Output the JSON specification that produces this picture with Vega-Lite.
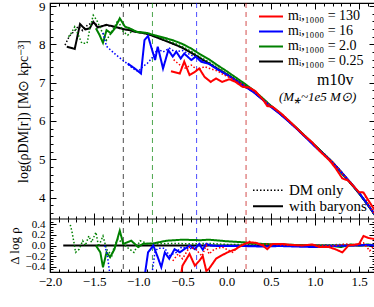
{
  "$schema": "https://vega.github.io/schema/vega-lite/v6.json",
  "padding": {"left": 8, "top": 0, "right": 0, "bottom": 0},
  "width": 325,
  "height": 269,
  "config": {
    "font": "Liberation Serif",
    "view": {"stroke": "black", "strokeWidth": 1.2},
    "axis": {"labelFont": "Liberation Serif", "titleFont": "Liberation Serif", "labelColor": "black", "titleColor": "black", "tickColor": "black", "titleFontWeight": "normal", "grid": false, "labelFlush": false, "labelOverlap": false},
    "legend": {"labelFont": "Liberation Serif", "labelColor": "black"}
  },
  "datasets": {
    "vl": [
      {"x": -1.17, "s": "0.25"},
      {"x": -0.84, "s": "2.0"},
      {"x": -0.34, "s": "16"},
      {"x": 0.22, "s": "130"}
    ],
    "top": [
      {"x": -1.83, "y": 7.98, "s": "0.25", "k": "DM only"},
      {"x": -1.78, "y": 8.22, "s": "0.25", "k": "DM only"},
      {"x": -1.73, "y": 8.33, "s": "0.25", "k": "DM only"},
      {"x": -1.68, "y": 8.47, "s": "0.25", "k": "DM only"},
      {"x": -1.63, "y": 8.36, "s": "0.25", "k": "DM only"},
      {"x": -1.57, "y": 8.52, "s": "0.25", "k": "DM only"},
      {"x": -1.50, "y": 8.56, "s": "0.25", "k": "DM only"},
      {"x": -1.44, "y": 8.46, "s": "0.25", "k": "DM only"},
      {"x": -1.38, "y": 8.50, "s": "0.25", "k": "DM only"},
      {"x": -1.30, "y": 8.47, "s": "0.25", "k": "DM only"},
      {"x": -1.22, "y": 8.42, "s": "0.25", "k": "DM only"},
      {"x": -1.12, "y": 8.38, "s": "0.25", "k": "DM only"},
      {"x": -1.0, "y": 8.32, "s": "0.25", "k": "DM only"},
      {"x": -0.9, "y": 8.27, "s": "0.25", "k": "DM only"},
      {"x": -0.8, "y": 8.19, "s": "0.25", "k": "DM only"},
      {"x": -0.7, "y": 8.10, "s": "0.25", "k": "DM only"},
      {"x": -0.6, "y": 8.01, "s": "0.25", "k": "DM only"},
      {"x": -0.5, "y": 7.91, "s": "0.25", "k": "DM only"},
      {"x": -0.4, "y": 7.79, "s": "0.25", "k": "DM only"},
      {"x": -0.3, "y": 7.64, "s": "0.25", "k": "DM only"},
      {"x": -0.2, "y": 7.50, "s": "0.25", "k": "DM only"},
      {"x": -0.1, "y": 7.36, "s": "0.25", "k": "DM only"},
      {"x": 0.0, "y": 7.22, "s": "0.25", "k": "DM only"},
      {"x": 0.1, "y": 7.07, "s": "0.25", "k": "DM only"},
      {"x": 0.2, "y": 6.92, "s": "0.25", "k": "DM only"},
      {"x": 0.3, "y": 6.77, "s": "0.25", "k": "DM only"},
      {"x": 0.4, "y": 6.58, "s": "0.25", "k": "DM only"},
      {"x": 0.5, "y": 6.38, "s": "0.25", "k": "DM only"},
      {"x": 0.6, "y": 6.20, "s": "0.25", "k": "DM only"},
      {"x": 0.7, "y": 6.00, "s": "0.25", "k": "DM only"},
      {"x": 0.8, "y": 5.79, "s": "0.25", "k": "DM only"},
      {"x": 0.9, "y": 5.57, "s": "0.25", "k": "DM only"},
      {"x": 1.0, "y": 5.36, "s": "0.25", "k": "DM only"},
      {"x": 1.1, "y": 5.14, "s": "0.25", "k": "DM only"},
      {"x": 1.2, "y": 4.92, "s": "0.25", "k": "DM only"},
      {"x": 1.3, "y": 4.66, "s": "0.25", "k": "DM only"},
      {"x": 1.4, "y": 4.38, "s": "0.25", "k": "DM only"},
      {"x": 1.5, "y": 4.11, "s": "0.25", "k": "DM only"},
      {"x": 1.6, "y": 3.80, "s": "0.25", "k": "DM only"},
      {"x": 1.68, "y": 3.54, "s": "0.25", "k": "DM only"},

      {"x": -1.81, "y": 7.94, "s": "0.25", "k": "with baryons"},
      {"x": -1.72, "y": 7.88, "s": "0.25", "k": "with baryons"},
      {"x": -1.66, "y": 8.53, "s": "0.25", "k": "with baryons"},
      {"x": -1.60, "y": 8.39, "s": "0.25", "k": "with baryons"},
      {"x": -1.55, "y": 8.42, "s": "0.25", "k": "with baryons"},
      {"x": -1.51, "y": 8.59, "s": "0.25", "k": "with baryons"},
      {"x": -1.46, "y": 8.44, "s": "0.25", "k": "with baryons"},
      {"x": -1.36, "y": 8.51, "s": "0.25", "k": "with baryons"},
      {"x": -1.27, "y": 8.46, "s": "0.25", "k": "with baryons"},
      {"x": -1.17, "y": 8.40, "s": "0.25", "k": "with baryons"},
      {"x": -1.10, "y": 8.37, "s": "0.25", "k": "with baryons"},
      {"x": -1.04, "y": 8.33, "s": "0.25", "k": "with baryons"},
      {"x": -0.96, "y": 8.30, "s": "0.25", "k": "with baryons"},
      {"x": -0.89, "y": 8.27, "s": "0.25", "k": "with baryons"},
      {"x": -0.8, "y": 8.19, "s": "0.25", "k": "with baryons"},
      {"x": -0.7, "y": 8.10, "s": "0.25", "k": "with baryons"},
      {"x": -0.6, "y": 8.01, "s": "0.25", "k": "with baryons"},
      {"x": -0.5, "y": 7.91, "s": "0.25", "k": "with baryons"},
      {"x": -0.4, "y": 7.78, "s": "0.25", "k": "with baryons"},
      {"x": -0.3, "y": 7.64, "s": "0.25", "k": "with baryons"},
      {"x": -0.2, "y": 7.50, "s": "0.25", "k": "with baryons"},
      {"x": -0.1, "y": 7.36, "s": "0.25", "k": "with baryons"},
      {"x": 0.0, "y": 7.22, "s": "0.25", "k": "with baryons"},
      {"x": 0.1, "y": 7.07, "s": "0.25", "k": "with baryons"},
      {"x": 0.2, "y": 6.92, "s": "0.25", "k": "with baryons"},
      {"x": 0.3, "y": 6.77, "s": "0.25", "k": "with baryons"},
      {"x": 0.4, "y": 6.58, "s": "0.25", "k": "with baryons"},
      {"x": 0.5, "y": 6.38, "s": "0.25", "k": "with baryons"},
      {"x": 0.6, "y": 6.20, "s": "0.25", "k": "with baryons"},
      {"x": 0.7, "y": 6.00, "s": "0.25", "k": "with baryons"},
      {"x": 0.8, "y": 5.79, "s": "0.25", "k": "with baryons"},
      {"x": 0.9, "y": 5.57, "s": "0.25", "k": "with baryons"},
      {"x": 1.0, "y": 5.36, "s": "0.25", "k": "with baryons"},
      {"x": 1.1, "y": 5.14, "s": "0.25", "k": "with baryons"},
      {"x": 1.2, "y": 4.92, "s": "0.25", "k": "with baryons"},
      {"x": 1.3, "y": 4.66, "s": "0.25", "k": "with baryons"},
      {"x": 1.4, "y": 4.38, "s": "0.25", "k": "with baryons"},
      {"x": 1.5, "y": 4.11, "s": "0.25", "k": "with baryons"},
      {"x": 1.6, "y": 3.80, "s": "0.25", "k": "with baryons"},
      {"x": 1.68, "y": 3.54, "s": "0.25", "k": "with baryons"},

      {"x": -1.79, "y": 8.20, "s": "2.0", "k": "DM only"},
      {"x": -1.76, "y": 8.29, "s": "2.0", "k": "DM only"},
      {"x": -1.72, "y": 8.46, "s": "2.0", "k": "DM only"},
      {"x": -1.68, "y": 8.25, "s": "2.0", "k": "DM only"},
      {"x": -1.64, "y": 8.03, "s": "2.0", "k": "DM only"},
      {"x": -1.58, "y": 8.03, "s": "2.0", "k": "DM only"},
      {"x": -1.55, "y": 8.40, "s": "2.0", "k": "DM only"},
      {"x": -1.51, "y": 8.76, "s": "2.0", "k": "DM only"},
      {"x": -1.47, "y": 8.63, "s": "2.0", "k": "DM only"},
      {"x": -1.42, "y": 8.37, "s": "2.0", "k": "DM only"},
      {"x": -1.36, "y": 8.11, "s": "2.0", "k": "DM only"},
      {"x": -1.31, "y": 8.29, "s": "2.0", "k": "DM only"},
      {"x": -1.23, "y": 8.63, "s": "2.0", "k": "DM only"},
      {"x": -1.17, "y": 8.33, "s": "2.0", "k": "DM only"},
      {"x": -1.12, "y": 8.24, "s": "2.0", "k": "DM only"},
      {"x": -1.06, "y": 8.37, "s": "2.0", "k": "DM only"},
      {"x": -1.0, "y": 8.30, "s": "2.0", "k": "DM only"},
      {"x": -0.9, "y": 8.30, "s": "2.0", "k": "DM only"},
      {"x": -0.8, "y": 8.22, "s": "2.0", "k": "DM only"},
      {"x": -0.7, "y": 8.13, "s": "2.0", "k": "DM only"},
      {"x": -0.6, "y": 8.04, "s": "2.0", "k": "DM only"},
      {"x": -0.5, "y": 7.94, "s": "2.0", "k": "DM only"},
      {"x": -0.4, "y": 7.82, "s": "2.0", "k": "DM only"},
      {"x": -0.3, "y": 7.67, "s": "2.0", "k": "DM only"},
      {"x": -0.2, "y": 7.54, "s": "2.0", "k": "DM only"},
      {"x": -0.1, "y": 7.39, "s": "2.0", "k": "DM only"},
      {"x": 0.0, "y": 7.24, "s": "2.0", "k": "DM only"},
      {"x": 0.1, "y": 7.09, "s": "2.0", "k": "DM only"},
      {"x": 0.2, "y": 6.94, "s": "2.0", "k": "DM only"},
      {"x": 0.3, "y": 6.79, "s": "2.0", "k": "DM only"},
      {"x": 0.4, "y": 6.60, "s": "2.0", "k": "DM only"},
      {"x": 0.5, "y": 6.39, "s": "2.0", "k": "DM only"},
      {"x": 0.6, "y": 6.21, "s": "2.0", "k": "DM only"},
      {"x": 0.7, "y": 6.01, "s": "2.0", "k": "DM only"},
      {"x": 0.8, "y": 5.80, "s": "2.0", "k": "DM only"},
      {"x": 0.9, "y": 5.57, "s": "2.0", "k": "DM only"},
      {"x": 1.0, "y": 5.36, "s": "2.0", "k": "DM only"},
      {"x": 1.1, "y": 5.15, "s": "2.0", "k": "DM only"},
      {"x": 1.2, "y": 4.93, "s": "2.0", "k": "DM only"},
      {"x": 1.3, "y": 4.68, "s": "2.0", "k": "DM only"},
      {"x": 1.4, "y": 4.39, "s": "2.0", "k": "DM only"},
      {"x": 1.5, "y": 4.11, "s": "2.0", "k": "DM only"},
      {"x": 1.6, "y": 3.80, "s": "2.0", "k": "DM only"},
      {"x": 1.68, "y": 3.54, "s": "2.0", "k": "DM only"},

      {"x": -1.48, "y": 8.42, "s": "2.0", "k": "with baryons"},
      {"x": -1.44, "y": 8.25, "s": "2.0", "k": "with baryons"},
      {"x": -1.40, "y": 8.04, "s": "2.0", "k": "with baryons"},
      {"x": -1.36, "y": 8.37, "s": "2.0", "k": "with baryons"},
      {"x": -1.31, "y": 8.29, "s": "2.0", "k": "with baryons"},
      {"x": -1.27, "y": 8.40, "s": "2.0", "k": "with baryons"},
      {"x": -1.21, "y": 8.68, "s": "2.0", "k": "with baryons"},
      {"x": -1.15, "y": 8.46, "s": "2.0", "k": "with baryons"},
      {"x": -1.10, "y": 8.42, "s": "2.0", "k": "with baryons"},
      {"x": -1.02, "y": 8.33, "s": "2.0", "k": "with baryons"},
      {"x": -0.91, "y": 8.30, "s": "2.0", "k": "with baryons"},
      {"x": -0.8, "y": 8.23, "s": "2.0", "k": "with baryons"},
      {"x": -0.7, "y": 8.17, "s": "2.0", "k": "with baryons"},
      {"x": -0.6, "y": 8.10, "s": "2.0", "k": "with baryons"},
      {"x": -0.5, "y": 8.01, "s": "2.0", "k": "with baryons"},
      {"x": -0.4, "y": 7.89, "s": "2.0", "k": "with baryons"},
      {"x": -0.3, "y": 7.74, "s": "2.0", "k": "with baryons"},
      {"x": -0.2, "y": 7.61, "s": "2.0", "k": "with baryons"},
      {"x": -0.1, "y": 7.45, "s": "2.0", "k": "with baryons"},
      {"x": 0.0, "y": 7.30, "s": "2.0", "k": "with baryons"},
      {"x": 0.1, "y": 7.14, "s": "2.0", "k": "with baryons"},
      {"x": 0.2, "y": 6.98, "s": "2.0", "k": "with baryons"},
      {"x": 0.3, "y": 6.81, "s": "2.0", "k": "with baryons"},
      {"x": 0.4, "y": 6.61, "s": "2.0", "k": "with baryons"},
      {"x": 0.5, "y": 6.40, "s": "2.0", "k": "with baryons"},
      {"x": 0.6, "y": 6.22, "s": "2.0", "k": "with baryons"},
      {"x": 0.7, "y": 6.01, "s": "2.0", "k": "with baryons"},
      {"x": 0.8, "y": 5.80, "s": "2.0", "k": "with baryons"},
      {"x": 0.9, "y": 5.58, "s": "2.0", "k": "with baryons"},
      {"x": 1.0, "y": 5.36, "s": "2.0", "k": "with baryons"},
      {"x": 1.1, "y": 5.14, "s": "2.0", "k": "with baryons"},
      {"x": 1.2, "y": 4.91, "s": "2.0", "k": "with baryons"},
      {"x": 1.3, "y": 4.63, "s": "2.0", "k": "with baryons"},
      {"x": 1.4, "y": 4.40, "s": "2.0", "k": "with baryons"},
      {"x": 1.5, "y": 4.11, "s": "2.0", "k": "with baryons"},
      {"x": 1.6, "y": 3.82, "s": "2.0", "k": "with baryons"},
      {"x": 1.68, "y": 3.54, "s": "2.0", "k": "with baryons"},

      {"x": -1.40, "y": 8.30, "s": "16", "k": "DM only"},
      {"x": -1.36, "y": 7.95, "s": "16", "k": "DM only"},
      {"x": -1.25, "y": 7.72, "s": "16", "k": "DM only"},
      {"x": -1.15, "y": 7.54, "s": "16", "k": "DM only"},
      {"x": -1.06, "y": 7.37, "s": "16", "k": "DM only"},
      {"x": -1.0, "y": 7.29, "s": "16", "k": "DM only"},
      {"x": -0.95, "y": 7.42, "s": "16", "k": "DM only"},
      {"x": -0.9, "y": 7.50, "s": "16", "k": "DM only"},
      {"x": -0.85, "y": 7.63, "s": "16", "k": "DM only"},
      {"x": -0.78, "y": 7.88, "s": "16", "k": "DM only"},
      {"x": -0.72, "y": 7.80, "s": "16", "k": "DM only"},
      {"x": -0.65, "y": 7.90, "s": "16", "k": "DM only"},
      {"x": -0.58, "y": 7.80, "s": "16", "k": "DM only"},
      {"x": -0.5, "y": 7.84, "s": "16", "k": "DM only"},
      {"x": -0.42, "y": 7.74, "s": "16", "k": "DM only"},
      {"x": -0.35, "y": 7.66, "s": "16", "k": "DM only"},
      {"x": -0.3, "y": 7.61, "s": "16", "k": "DM only"},
      {"x": -0.2, "y": 7.49, "s": "16", "k": "DM only"},
      {"x": -0.1, "y": 7.35, "s": "16", "k": "DM only"},
      {"x": 0.0, "y": 7.21, "s": "16", "k": "DM only"},
      {"x": 0.1, "y": 7.07, "s": "16", "k": "DM only"},
      {"x": 0.2, "y": 6.92, "s": "16", "k": "DM only"},
      {"x": 0.3, "y": 6.77, "s": "16", "k": "DM only"},
      {"x": 0.4, "y": 6.58, "s": "16", "k": "DM only"},
      {"x": 0.5, "y": 6.38, "s": "16", "k": "DM only"},
      {"x": 0.6, "y": 6.19, "s": "16", "k": "DM only"},
      {"x": 0.7, "y": 6.00, "s": "16", "k": "DM only"},
      {"x": 0.8, "y": 5.79, "s": "16", "k": "DM only"},
      {"x": 0.9, "y": 5.57, "s": "16", "k": "DM only"},
      {"x": 1.0, "y": 5.36, "s": "16", "k": "DM only"},
      {"x": 1.1, "y": 5.14, "s": "16", "k": "DM only"},
      {"x": 1.2, "y": 4.92, "s": "16", "k": "DM only"},
      {"x": 1.3, "y": 4.66, "s": "16", "k": "DM only"},
      {"x": 1.4, "y": 4.39, "s": "16", "k": "DM only"},
      {"x": 1.5, "y": 4.12, "s": "16", "k": "DM only"},
      {"x": 1.6, "y": 3.81, "s": "16", "k": "DM only"},
      {"x": 1.68, "y": 3.55, "s": "16", "k": "DM only"},

      {"x": -1.12, "y": 7.50, "s": "16", "k": "with baryons"},
      {"x": -1.04, "y": 7.37, "s": "16", "k": "with baryons"},
      {"x": -0.97, "y": 7.24, "s": "16", "k": "with baryons"},
      {"x": -0.93, "y": 8.11, "s": "16", "k": "with baryons"},
      {"x": -0.89, "y": 8.22, "s": "16", "k": "with baryons"},
      {"x": -0.85, "y": 7.90, "s": "16", "k": "with baryons"},
      {"x": -0.81, "y": 7.59, "s": "16", "k": "with baryons"},
      {"x": -0.78, "y": 7.94, "s": "16", "k": "with baryons"},
      {"x": -0.72, "y": 7.37, "s": "16", "k": "with baryons"},
      {"x": -0.66, "y": 7.85, "s": "16", "k": "with baryons"},
      {"x": -0.61, "y": 7.68, "s": "16", "k": "with baryons"},
      {"x": -0.57, "y": 7.81, "s": "16", "k": "with baryons"},
      {"x": -0.52, "y": 7.63, "s": "16", "k": "with baryons"},
      {"x": -0.48, "y": 7.76, "s": "16", "k": "with baryons"},
      {"x": -0.40, "y": 7.59, "s": "16", "k": "with baryons"},
      {"x": -0.35, "y": 7.68, "s": "16", "k": "with baryons"},
      {"x": -0.29, "y": 7.55, "s": "16", "k": "with baryons"},
      {"x": -0.25, "y": 7.52, "s": "16", "k": "with baryons"},
      {"x": -0.2, "y": 7.49, "s": "16", "k": "with baryons"},
      {"x": -0.1, "y": 7.34, "s": "16", "k": "with baryons"},
      {"x": 0.0, "y": 7.21, "s": "16", "k": "with baryons"},
      {"x": 0.1, "y": 7.06, "s": "16", "k": "with baryons"},
      {"x": 0.2, "y": 6.91, "s": "16", "k": "with baryons"},
      {"x": 0.3, "y": 6.76, "s": "16", "k": "with baryons"},
      {"x": 0.4, "y": 6.57, "s": "16", "k": "with baryons"},
      {"x": 0.5, "y": 6.37, "s": "16", "k": "with baryons"},
      {"x": 0.6, "y": 6.19, "s": "16", "k": "with baryons"},
      {"x": 0.7, "y": 5.99, "s": "16", "k": "with baryons"},
      {"x": 0.8, "y": 5.78, "s": "16", "k": "with baryons"},
      {"x": 0.9, "y": 5.56, "s": "16", "k": "with baryons"},
      {"x": 1.0, "y": 5.33, "s": "16", "k": "with baryons"},
      {"x": 1.1, "y": 5.13, "s": "16", "k": "with baryons"},
      {"x": 1.2, "y": 4.91, "s": "16", "k": "with baryons"},
      {"x": 1.3, "y": 4.66, "s": "16", "k": "with baryons"},
      {"x": 1.4, "y": 4.40, "s": "16", "k": "with baryons"},
      {"x": 1.5, "y": 4.12, "s": "16", "k": "with baryons"},
      {"x": 1.6, "y": 3.81, "s": "16", "k": "with baryons"},
      {"x": 1.68, "y": 3.55, "s": "16", "k": "with baryons"},

      {"x": -0.6, "y": 7.60, "s": "130", "k": "DM only"},
      {"x": -0.55, "y": 7.50, "s": "130", "k": "DM only"},
      {"x": -0.48, "y": 7.37, "s": "130", "k": "DM only"},
      {"x": -0.40, "y": 7.46, "s": "130", "k": "DM only"},
      {"x": -0.33, "y": 7.33, "s": "130", "k": "DM only"},
      {"x": -0.25, "y": 7.42, "s": "130", "k": "DM only"},
      {"x": -0.18, "y": 7.36, "s": "130", "k": "DM only"},
      {"x": -0.1, "y": 7.30, "s": "130", "k": "DM only"},
      {"x": -0.03, "y": 7.20, "s": "130", "k": "DM only"},
      {"x": 0.05, "y": 7.12, "s": "130", "k": "DM only"},
      {"x": 0.12, "y": 7.02, "s": "130", "k": "DM only"},
      {"x": 0.2, "y": 6.94, "s": "130", "k": "DM only"},
      {"x": 0.3, "y": 6.79, "s": "130", "k": "DM only"},
      {"x": 0.4, "y": 6.59, "s": "130", "k": "DM only"},
      {"x": 0.5, "y": 6.39, "s": "130", "k": "DM only"},
      {"x": 0.6, "y": 6.21, "s": "130", "k": "DM only"},
      {"x": 0.7, "y": 6.01, "s": "130", "k": "DM only"},
      {"x": 0.8, "y": 5.80, "s": "130", "k": "DM only"},
      {"x": 0.9, "y": 5.57, "s": "130", "k": "DM only"},
      {"x": 1.0, "y": 5.37, "s": "130", "k": "DM only"},
      {"x": 1.1, "y": 5.14, "s": "130", "k": "DM only"},
      {"x": 1.2, "y": 4.93, "s": "130", "k": "DM only"},
      {"x": 1.3, "y": 4.66, "s": "130", "k": "DM only"},
      {"x": 1.4, "y": 4.39, "s": "130", "k": "DM only"},
      {"x": 1.5, "y": 4.13, "s": "130", "k": "DM only"},
      {"x": 1.55, "y": 4.15, "s": "130", "k": "DM only"},
      {"x": 1.6, "y": 3.84, "s": "130", "k": "DM only"},
      {"x": 1.68, "y": 3.55, "s": "130", "k": "DM only"},

      {"x": -0.63, "y": 7.30, "s": "130", "k": "with baryons"},
      {"x": -0.53, "y": 7.24, "s": "130", "k": "with baryons"},
      {"x": -0.48, "y": 7.55, "s": "130", "k": "with baryons"},
      {"x": -0.42, "y": 7.20, "s": "130", "k": "with baryons"},
      {"x": -0.36, "y": 7.28, "s": "130", "k": "with baryons"},
      {"x": -0.31, "y": 7.37, "s": "130", "k": "with baryons"},
      {"x": -0.25, "y": 7.15, "s": "130", "k": "with baryons"},
      {"x": -0.18, "y": 7.02, "s": "130", "k": "with baryons"},
      {"x": -0.12, "y": 7.11, "s": "130", "k": "with baryons"},
      {"x": -0.05, "y": 7.02, "s": "130", "k": "with baryons"},
      {"x": 0.03, "y": 7.09, "s": "130", "k": "with baryons"},
      {"x": 0.1, "y": 7.02, "s": "130", "k": "with baryons"},
      {"x": 0.18, "y": 6.89, "s": "130", "k": "with baryons"},
      {"x": 0.26, "y": 6.87, "s": "130", "k": "with baryons"},
      {"x": 0.33, "y": 6.77, "s": "130", "k": "with baryons"},
      {"x": 0.41, "y": 6.56, "s": "130", "k": "with baryons"},
      {"x": 0.46, "y": 6.39, "s": "130", "k": "with baryons"},
      {"x": 0.52, "y": 6.37, "s": "130", "k": "with baryons"},
      {"x": 0.63, "y": 6.17, "s": "130", "k": "with baryons"},
      {"x": 0.74, "y": 5.93, "s": "130", "k": "with baryons"},
      {"x": 0.86, "y": 5.66, "s": "130", "k": "with baryons"},
      {"x": 0.97, "y": 5.44, "s": "130", "k": "with baryons"},
      {"x": 1.05, "y": 5.22, "s": "130", "k": "with baryons"},
      {"x": 1.16, "y": 4.98, "s": "130", "k": "with baryons"},
      {"x": 1.23, "y": 4.78, "s": "130", "k": "with baryons"},
      {"x": 1.31, "y": 4.50, "s": "130", "k": "with baryons"},
      {"x": 1.38, "y": 4.44, "s": "130", "k": "with baryons"},
      {"x": 1.5, "y": 4.14, "s": "130", "k": "with baryons"},
      {"x": 1.55, "y": 4.13, "s": "130", "k": "with baryons"},
      {"x": 1.61, "y": 3.91, "s": "130", "k": "with baryons"},
      {"x": 1.68, "y": 3.66, "s": "130", "k": "with baryons"}
    ],
    "bot": [
      {"x": -1.85, "y": 0.0, "s": "0.25", "k": "with baryons"},
      {"x": 0.0, "y": 0.0, "s": "0.25", "k": "with baryons"},
      {"x": 1.68, "y": 0.0, "s": "0.25", "k": "with baryons"},

      {"x": -1.77, "y": 0.39, "s": "2.0", "k": "DM only"},
      {"x": -1.75, "y": 0.25, "s": "2.0", "k": "DM only"},
      {"x": -1.73, "y": 0.07, "s": "2.0", "k": "DM only"},
      {"x": -1.71, "y": -0.13, "s": "2.0", "k": "DM only"},
      {"x": -1.67, "y": -0.07, "s": "2.0", "k": "DM only"},
      {"x": -1.63, "y": 0.09, "s": "2.0", "k": "DM only"},
      {"x": -1.60, "y": 0.0, "s": "2.0", "k": "DM only"},
      {"x": -1.56, "y": 0.18, "s": "2.0", "k": "DM only"},
      {"x": -1.53, "y": 0.06, "s": "2.0", "k": "DM only"},
      {"x": -1.48, "y": 0.25, "s": "2.0", "k": "DM only"},
      {"x": -1.45, "y": -0.02, "s": "2.0", "k": "DM only"},
      {"x": -1.40, "y": 0.18, "s": "2.0", "k": "DM only"},
      {"x": -1.36, "y": -0.07, "s": "2.0", "k": "DM only"},
      {"x": -1.30, "y": -0.19, "s": "2.0", "k": "DM only"},
      {"x": -1.27, "y": 0.0, "s": "2.0", "k": "DM only"},
      {"x": -1.23, "y": 0.12, "s": "2.0", "k": "DM only"},
      {"x": -1.13, "y": -0.03, "s": "2.0", "k": "DM only"},
      {"x": -1.05, "y": -0.13, "s": "2.0", "k": "DM only"},
      {"x": -0.98, "y": 0.09, "s": "2.0", "k": "DM only"},
      {"x": -0.9, "y": 0.04, "s": "2.0", "k": "DM only"},
      {"x": -0.8, "y": 0.03, "s": "2.0", "k": "DM only"},
      {"x": -0.6, "y": 0.04, "s": "2.0", "k": "DM only"},
      {"x": -0.4, "y": 0.03, "s": "2.0", "k": "DM only"},
      {"x": -0.2, "y": 0.04, "s": "2.0", "k": "DM only"},
      {"x": 0.0, "y": 0.02, "s": "2.0", "k": "DM only"},
      {"x": 0.3, "y": 0.02, "s": "2.0", "k": "DM only"},
      {"x": 0.6, "y": 0.01, "s": "2.0", "k": "DM only"},
      {"x": 1.0, "y": 0.0, "s": "2.0", "k": "DM only"},
      {"x": 1.3, "y": 0.02, "s": "2.0", "k": "DM only"},
      {"x": 1.6, "y": 0.0, "s": "2.0", "k": "DM only"},
      {"x": 1.68, "y": 0.0, "s": "2.0", "k": "DM only"},

      {"x": -1.48, "y": 0.0, "s": "2.0", "k": "with baryons"},
      {"x": -1.43, "y": -0.13, "s": "2.0", "k": "with baryons"},
      {"x": -1.40, "y": -0.41, "s": "2.0", "k": "with baryons"},
      {"x": -1.36, "y": -0.13, "s": "2.0", "k": "with baryons"},
      {"x": -1.32, "y": -0.22, "s": "2.0", "k": "with baryons"},
      {"x": -1.27, "y": -0.07, "s": "2.0", "k": "with baryons"},
      {"x": -1.21, "y": 0.28, "s": "2.0", "k": "with baryons"},
      {"x": -1.17, "y": 0.03, "s": "2.0", "k": "with baryons"},
      {"x": -1.08, "y": 0.09, "s": "2.0", "k": "with baryons"},
      {"x": -1.0, "y": -0.03, "s": "2.0", "k": "with baryons"},
      {"x": -0.95, "y": 0.03, "s": "2.0", "k": "with baryons"},
      {"x": -0.83, "y": 0.04, "s": "2.0", "k": "with baryons"},
      {"x": -0.68, "y": 0.09, "s": "2.0", "k": "with baryons"},
      {"x": -0.5, "y": 0.11, "s": "2.0", "k": "with baryons"},
      {"x": -0.3, "y": 0.10, "s": "2.0", "k": "with baryons"},
      {"x": -0.2, "y": 0.11, "s": "2.0", "k": "with baryons"},
      {"x": 0.0, "y": 0.08, "s": "2.0", "k": "with baryons"},
      {"x": 0.2, "y": 0.06, "s": "2.0", "k": "with baryons"},
      {"x": 0.3, "y": 0.04, "s": "2.0", "k": "with baryons"},
      {"x": 0.4, "y": 0.03, "s": "2.0", "k": "with baryons"},
      {"x": 0.6, "y": 0.02, "s": "2.0", "k": "with baryons"},
      {"x": 0.8, "y": 0.01, "s": "2.0", "k": "with baryons"},
      {"x": 1.0, "y": 0.0, "s": "2.0", "k": "with baryons"},
      {"x": 1.2, "y": -0.01, "s": "2.0", "k": "with baryons"},
      {"x": 1.3, "y": -0.03, "s": "2.0", "k": "with baryons"},
      {"x": 1.4, "y": 0.02, "s": "2.0", "k": "with baryons"},
      {"x": 1.5, "y": 0.0, "s": "2.0", "k": "with baryons"},
      {"x": 1.6, "y": 0.02, "s": "2.0", "k": "with baryons"},
      {"x": 1.68, "y": 0.0, "s": "2.0", "k": "with baryons"},

      {"x": -1.38, "y": 0.0, "s": "16", "k": "DM only"},
      {"x": -1.35, "y": -0.19, "s": "16", "k": "DM only"},
      {"x": -1.31, "y": -0.7, "s": "16", "k": "DM only"},
      {"x": -1.0, "y": -1.0, "s": "16", "k": "DM only"},
      {"x": -0.85, "y": -0.6, "s": "16", "k": "DM only"},
      {"x": -0.81, "y": -0.1, "s": "16", "k": "DM only"},
      {"x": -0.77, "y": -0.05, "s": "16", "k": "DM only"},
      {"x": -0.7, "y": -0.05, "s": "16", "k": "DM only"},
      {"x": -0.65, "y": -0.19, "s": "16", "k": "DM only"},
      {"x": -0.57, "y": -0.13, "s": "16", "k": "DM only"},
      {"x": -0.51, "y": -0.03, "s": "16", "k": "DM only"},
      {"x": -0.42, "y": -0.07, "s": "16", "k": "DM only"},
      {"x": -0.35, "y": 0.0, "s": "16", "k": "DM only"},
      {"x": -0.2, "y": 0.0, "s": "16", "k": "DM only"},
      {"x": 0.0, "y": 0.0, "s": "16", "k": "DM only"},
      {"x": 0.5, "y": -0.01, "s": "16", "k": "DM only"},
      {"x": 1.0, "y": 0.0, "s": "16", "k": "DM only"},
      {"x": 1.5, "y": 0.01, "s": "16", "k": "DM only"},
      {"x": 1.68, "y": 0.0, "s": "16", "k": "DM only"},

      {"x": -1.12, "y": -0.87, "s": "16", "k": "with baryons"},
      {"x": -0.97, "y": -1.06, "s": "16", "k": "with baryons"},
      {"x": -0.93, "y": -0.6, "s": "16", "k": "with baryons"},
      {"x": -0.89, "y": -0.13, "s": "16", "k": "with baryons"},
      {"x": -0.83, "y": 0.0, "s": "16", "k": "with baryons"},
      {"x": -0.78, "y": -0.22, "s": "16", "k": "with baryons"},
      {"x": -0.74, "y": -0.41, "s": "16", "k": "with baryons"},
      {"x": -0.70, "y": -0.13, "s": "16", "k": "with baryons"},
      {"x": -0.65, "y": -0.25, "s": "16", "k": "with baryons"},
      {"x": -0.59, "y": -0.07, "s": "16", "k": "with baryons"},
      {"x": -0.53, "y": -0.13, "s": "16", "k": "with baryons"},
      {"x": -0.48, "y": -0.07, "s": "16", "k": "with baryons"},
      {"x": -0.42, "y": 0.0, "s": "16", "k": "with baryons"},
      {"x": -0.36, "y": -0.07, "s": "16", "k": "with baryons"},
      {"x": -0.31, "y": 0.03, "s": "16", "k": "with baryons"},
      {"x": -0.27, "y": -0.08, "s": "16", "k": "with baryons"},
      {"x": -0.23, "y": 0.03, "s": "16", "k": "with baryons"},
      {"x": -0.18, "y": 0.0, "s": "16", "k": "with baryons"},
      {"x": -0.1, "y": -0.01, "s": "16", "k": "with baryons"},
      {"x": 0.0, "y": -0.01, "s": "16", "k": "with baryons"},
      {"x": 0.2, "y": -0.01, "s": "16", "k": "with baryons"},
      {"x": 0.4, "y": -0.02, "s": "16", "k": "with baryons"},
      {"x": 0.6, "y": -0.01, "s": "16", "k": "with baryons"},
      {"x": 0.8, "y": -0.02, "s": "16", "k": "with baryons"},
      {"x": 1.0, "y": -0.03, "s": "16", "k": "with baryons"},
      {"x": 1.2, "y": -0.01, "s": "16", "k": "with baryons"},
      {"x": 1.4, "y": 0.0, "s": "16", "k": "with baryons"},
      {"x": 1.6, "y": 0.01, "s": "16", "k": "with baryons"},
      {"x": 1.68, "y": 0.0, "s": "16", "k": "with baryons"},

      {"x": -0.61, "y": -0.29, "s": "130", "k": "DM only"},
      {"x": -0.55, "y": -0.16, "s": "130", "k": "DM only"},
      {"x": -0.5, "y": -0.25, "s": "130", "k": "DM only"},
      {"x": -0.42, "y": -0.03, "s": "130", "k": "DM only"},
      {"x": -0.35, "y": -0.07, "s": "130", "k": "DM only"},
      {"x": -0.28, "y": -0.2, "s": "130", "k": "DM only"},
      {"x": -0.23, "y": 0.0, "s": "130", "k": "DM only"},
      {"x": -0.2, "y": -0.16, "s": "130", "k": "DM only"},
      {"x": -0.14, "y": -0.07, "s": "130", "k": "DM only"},
      {"x": -0.05, "y": -0.03, "s": "130", "k": "DM only"},
      {"x": 0.07, "y": -0.13, "s": "130", "k": "DM only"},
      {"x": 0.12, "y": -0.04, "s": "130", "k": "DM only"},
      {"x": 0.2, "y": 0.02, "s": "130", "k": "DM only"},
      {"x": 0.25, "y": 0.08, "s": "130", "k": "DM only"},
      {"x": 0.3, "y": 0.05, "s": "130", "k": "DM only"},
      {"x": 0.4, "y": 0.02, "s": "130", "k": "DM only"},
      {"x": 0.5, "y": 0.03, "s": "130", "k": "DM only"},
      {"x": 0.6, "y": 0.01, "s": "130", "k": "DM only"},
      {"x": 0.8, "y": 0.0, "s": "130", "k": "DM only"},
      {"x": 1.0, "y": 0.01, "s": "130", "k": "DM only"},
      {"x": 1.2, "y": -0.01, "s": "130", "k": "DM only"},
      {"x": 1.35, "y": 0.03, "s": "130", "k": "DM only"},
      {"x": 1.45, "y": 0.0, "s": "130", "k": "DM only"},
      {"x": 1.55, "y": 0.05, "s": "130", "k": "DM only"},
      {"x": 1.62, "y": -0.1, "s": "130", "k": "DM only"},
      {"x": 1.68, "y": 0.02, "s": "130", "k": "DM only"},

      {"x": -0.63, "y": -0.73, "s": "130", "k": "with baryons"},
      {"x": -0.53, "y": -0.7, "s": "130", "k": "with baryons"},
      {"x": -0.5, "y": -0.38, "s": "130", "k": "with baryons"},
      {"x": -0.42, "y": -0.16, "s": "130", "k": "with baryons"},
      {"x": -0.36, "y": -0.38, "s": "130", "k": "with baryons"},
      {"x": -0.31, "y": -0.29, "s": "130", "k": "with baryons"},
      {"x": -0.27, "y": -0.2, "s": "130", "k": "with baryons"},
      {"x": -0.23, "y": -0.48, "s": "130", "k": "with baryons"},
      {"x": -0.2, "y": -0.44, "s": "130", "k": "with baryons"},
      {"x": -0.12, "y": -0.25, "s": "130", "k": "with baryons"},
      {"x": -0.06, "y": -0.19, "s": "130", "k": "with baryons"},
      {"x": 0.01, "y": -0.13, "s": "130", "k": "with baryons"},
      {"x": 0.1, "y": -0.07, "s": "130", "k": "with baryons"},
      {"x": 0.2, "y": 0.03, "s": "130", "k": "with baryons"},
      {"x": 0.26, "y": 0.06, "s": "130", "k": "with baryons"},
      {"x": 0.33, "y": 0.05, "s": "130", "k": "with baryons"},
      {"x": 0.41, "y": 0.0, "s": "130", "k": "with baryons"},
      {"x": 0.46, "y": -0.07, "s": "130", "k": "with baryons"},
      {"x": 0.52, "y": 0.03, "s": "130", "k": "with baryons"},
      {"x": 0.63, "y": 0.03, "s": "130", "k": "with baryons"},
      {"x": 0.74, "y": 0.01, "s": "130", "k": "with baryons"},
      {"x": 0.86, "y": 0.0, "s": "130", "k": "with baryons"},
      {"x": 0.97, "y": 0.02, "s": "130", "k": "with baryons"},
      {"x": 1.05, "y": -0.03, "s": "130", "k": "with baryons"},
      {"x": 1.16, "y": -0.03, "s": "130", "k": "with baryons"},
      {"x": 1.23, "y": -0.07, "s": "130", "k": "with baryons"},
      {"x": 1.31, "y": -0.13, "s": "130", "k": "with baryons"},
      {"x": 1.38, "y": 0.0, "s": "130", "k": "with baryons"},
      {"x": 1.5, "y": 0.03, "s": "130", "k": "with baryons"},
      {"x": 1.55, "y": 0.18, "s": "130", "k": "with baryons"},
      {"x": 1.61, "y": 0.14, "s": "130", "k": "with baryons"},
      {"x": 1.68, "y": 0.12, "s": "130", "k": "with baryons"}
    ]
  },
  "resolve": {"scale": {"y": "independent"}, "axis": {"x": "independent", "y": "independent"}},
  "layer": [
    {
      "data": {"name": "vl"},
      "transform": [{"filter": "datum.s == '0.25'"}],
      "mark": {"type": "rule", "strokeDash": [5, 4], "strokeWidth": 1, "color": "#000000", "opacity": 0.7},
      "encoding": {"x": {"field": "x", "type": "quantitative", "scale": {"domain": [-2.0, 1.68], "nice": false, "zero": false}, "axis": null}}
    },
    {
      "data": {"name": "vl"},
      "transform": [{"filter": "datum.s == '2.0'"}],
      "mark": {"type": "rule", "strokeDash": [5, 4], "strokeWidth": 1, "color": "#008000", "opacity": 0.7},
      "encoding": {"x": {"field": "x", "type": "quantitative", "scale": {"domain": [-2.0, 1.68], "nice": false, "zero": false}, "axis": null}}
    },
    {
      "data": {"name": "vl"},
      "transform": [{"filter": "datum.s == '16'"}],
      "mark": {"type": "rule", "strokeDash": [5, 4], "strokeWidth": 1, "color": "#0000ff", "opacity": 0.7},
      "encoding": {"x": {"field": "x", "type": "quantitative", "scale": {"domain": [-2.0, 1.68], "nice": false, "zero": false}, "axis": null}}
    },
    {
      "data": {"name": "vl"},
      "transform": [{"filter": "datum.s == '130'"}],
      "mark": {"type": "rule", "strokeDash": [5, 4], "strokeWidth": 1, "color": "#c00000", "opacity": 0.7},
      "encoding": {"x": {"field": "x", "type": "quantitative", "scale": {"domain": [-2.0, 1.68], "nice": false, "zero": false}, "axis": null}}
    },
    {
      "resolve": {"axis": {"x": "independent", "y": "independent"}},
      "layer": [
        {
          "data": {"name": "top"},
          "mark": {"type": "line", "clip": true},
          "encoding": {
            "x": {"field": "x", "type": "quantitative", "scale": {"domain": [-2.0, 1.68], "nice": false, "zero": false},
                  "axis": {"orient": "bottom", "values": [-2, -1.5, -1, -0.5, 0, 0.5, 1, 1.5], "offset": -59, "tickSize": 6, "domain": false, "labels": false, "title": null}},
            "y": {"field": "y", "type": "quantitative", "scale": {"domain": [3.44, 9.08], "range": [216, 0], "nice": false, "zero": false},
                  "axis": {"orient": "left", "values": [4, 5, 6, 7, 8, 9], "offset": -6, "tickSize": 6, "domain": false, "labelPadding": 5, "labelFontSize": 13, "format": "d", "title": "log(ρDM[r])   [M⊙ kpc⁻³]", "titleFontSize": 14, "titlePadding": 8}},
            "color": {"field": "s", "type": "nominal", "scale": {"domain": ["130", "16", "2.0", "0.25"], "range": ["#ff0000", "#0000ff", "#008000", "#000000"]},
                      "legend": {"orient": "none", "legendX": 208, "legendY": 7, "title": null, "symbolType": "stroke", "symbolSize": 576, "symbolStrokeWidth": 2, "labelExpr": "'mᵢ,₁₀₀₀ = ' + datum.label", "labelFontSize": 14, "clipHeight": 12.8, "rowPadding": 0, "labelOffset": 4, "padding": 0}},
            "strokeDash": {"field": "k", "type": "nominal", "scale": {"domain": ["DM only", "with baryons"], "range": [[1.5, 2], [1, 0]]},
                           "legend": {"orient": "none", "legendX": 202, "legendY": 180, "title": null, "symbolType": "stroke", "symbolSize": 900, "symbolStrokeWidth": 2, "symbolStrokeColor": "black", "labelFontSize": 15, "clipHeight": 14.7, "rowPadding": 0, "labelOffset": 5, "padding": 0}},
            "strokeWidth": {"field": "k", "type": "nominal", "scale": {"domain": ["DM only", "with baryons"], "range": [1.5, 2]}, "legend": null}
          }
        },
        {
          "data": {"values": [{}]},
          "mark": {"type": "rule", "opacity": 0},
          "encoding": {"x": {"datum": 0, "type": "quantitative", "scale": {"domain": [-2.0, 1.68], "nice": false, "zero": false},
            "axis": {"orient": "bottom", "values": [-1.9, -1.8, -1.7, -1.6, -1.4, -1.3, -1.2, -1.1, -0.9, -0.8, -0.7, -0.6, -0.4, -0.3, -0.2, -0.1, 0.1, 0.2, 0.3, 0.4, 0.6, 0.7, 0.8, 0.9, 1.1, 1.2, 1.3, 1.4, 1.6], "offset": -56, "tickSize": 3, "domain": false, "labels": false, "title": null}}}
        },
        {
          "data": {"values": [{}]},
          "mark": {"type": "rule", "opacity": 0},
          "encoding": {"x": {"datum": 0, "type": "quantitative", "scale": {"domain": [-2.0, 1.68], "nice": false, "zero": false},
            "axis": {"orient": "top", "values": [-2, -1.5, -1, -0.5, 0, 0.5, 1, 1.5], "offset": -6, "tickSize": 6, "domain": false, "labels": false, "title": null}}}
        },
        {
          "data": {"values": [{}]},
          "mark": {"type": "rule", "opacity": 0},
          "encoding": {"x": {"datum": 0, "type": "quantitative", "scale": {"domain": [-2.0, 1.68], "nice": false, "zero": false},
            "axis": {"orient": "top", "values": [-1.9, -1.8, -1.7, -1.6, -1.4, -1.3, -1.2, -1.1, -0.9, -0.8, -0.7, -0.6, -0.4, -0.3, -0.2, -0.1, 0.1, 0.2, 0.3, 0.4, 0.6, 0.7, 0.8, 0.9, 1.1, 1.2, 1.3, 1.4, 1.6], "offset": -3, "tickSize": 3, "domain": false, "labels": false, "title": null}}}
        },
        {
          "data": {"values": [{}]},
          "mark": {"type": "rule", "opacity": 0},
          "encoding": {"y": {"datum": 5, "type": "quantitative", "scale": {"domain": [3.44, 9.08], "range": [216, 0], "nice": false, "zero": false},
            "axis": {"orient": "left", "values": [3.6, 3.8, 4.2, 4.4, 4.6, 4.8, 5.2, 5.4, 5.6, 5.8, 6.2, 6.4, 6.6, 6.8, 7.2, 7.4, 7.6, 7.8, 8.2, 8.4, 8.6, 8.8], "offset": -3, "tickSize": 3, "domain": false, "labels": false, "title": null}}}
        },
        {
          "data": {"values": [{}]},
          "mark": {"type": "rule", "opacity": 0},
          "encoding": {"y": {"datum": 5, "type": "quantitative", "scale": {"domain": [3.44, 9.08], "range": [216, 0], "nice": false, "zero": false},
            "axis": {"orient": "right", "values": [4, 5, 6, 7, 8, 9], "offset": -6, "tickSize": 6, "domain": false, "labels": false, "title": null}}}
        },
        {
          "data": {"values": [{}]},
          "mark": {"type": "rule", "opacity": 0},
          "encoding": {"y": {"datum": 5, "type": "quantitative", "scale": {"domain": [3.44, 9.08], "range": [216, 0], "nice": false, "zero": false},
            "axis": {"orient": "right", "values": [3.6, 3.8, 4.2, 4.4, 4.6, 4.8, 5.2, 5.4, 5.6, 5.8, 6.2, 6.4, 6.6, 6.8, 7.2, 7.4, 7.6, 7.8, 8.2, 8.4, 8.6, 8.8], "offset": -3, "tickSize": 3, "domain": false, "labels": false, "title": null}}}
        },
        {
          "data": {"values": [{}]},
          "mark": {"type": "text", "text": "m10v", "fontSize": 16, "font": "Liberation Serif", "color": "black"},
          "encoding": {
            "x": {"datum": 1.23, "type": "quantitative", "scale": {"domain": [-2.0, 1.68], "nice": false, "zero": false}, "axis": null},
            "y": {"datum": 7.07, "type": "quantitative", "scale": {"domain": [3.44, 9.08], "range": [216, 0], "nice": false, "zero": false}, "axis": null}
          }
        },
        {
          "data": {"values": [{}]},
          "mark": {"type": "text", "text": "(M⁎~1e5 M⊙)", "fontSize": 13, "font": "Liberation Serif", "fontStyle": "italic", "color": "black"},
          "encoding": {
            "x": {"datum": 1.03, "type": "quantitative", "scale": {"domain": [-2.0, 1.68], "nice": false, "zero": false}, "axis": null},
            "y": {"datum": 6.62, "type": "quantitative", "scale": {"domain": [3.44, 9.08], "range": [216, 0], "nice": false, "zero": false}, "axis": null}
          }
        }
      ]
    },
    {
      "resolve": {"axis": {"x": "independent", "y": "independent"}},
      "layer": [
        {
          "data": {"values": [{}]},
          "mark": {"type": "rule", "color": "black", "strokeWidth": 1.2},
          "encoding": {"y": {"datum": 0.5, "type": "quantitative", "scale": {"domain": [-0.5, 0.5], "range": [269, 216], "nice": false, "zero": false}, "axis": null}}
        },
        {
          "data": {"name": "bot"},
          "mark": {"type": "line", "clip": true},
          "encoding": {
            "x": {"field": "x", "type": "quantitative", "scale": {"domain": [-2.0, 1.68], "nice": false, "zero": false},
                  "axis": {"orient": "bottom", "values": [-2, -1.5, -1, -0.5, 0, 0.5, 1, 1.5], "format": ".1f", "offset": -6, "tickSize": 6, "domain": false, "labelPadding": 3, "labelFontSize": 13, "title": null}},
            "y": {"field": "y", "type": "quantitative", "scale": {"domain": [-0.5, 0.5], "range": [269, 216], "nice": false, "zero": false},
                  "axis": {"orient": "left", "values": [-0.4, -0.2, 0, 0.2, 0.4], "format": ".1f", "offset": -6, "tickSize": 6, "domain": false, "labelPadding": 5, "labelFontSize": 11, "title": "Δ log ρ", "titleFontSize": 13, "titlePadding": 4}},
            "color": {"field": "s", "type": "nominal", "scale": {"domain": ["130", "16", "2.0", "0.25"], "range": ["#ff0000", "#0000ff", "#008000", "#000000"]}, "legend": null},
            "strokeDash": {"field": "k", "type": "nominal", "scale": {"domain": ["DM only", "with baryons"], "range": [[1.5, 2], [1, 0]]}, "legend": null},
            "strokeWidth": {"field": "k", "type": "nominal", "scale": {"domain": ["DM only", "with baryons"], "range": [1.5, 2]}, "legend": null}
          }
        },
        {
          "data": {"values": [{}]},
          "mark": {"type": "rule", "opacity": 0},
          "encoding": {"x": {"datum": 0, "type": "quantitative", "scale": {"domain": [-2.0, 1.68], "nice": false, "zero": false},
            "axis": {"orient": "bottom", "values": [-1.9, -1.8, -1.7, -1.6, -1.4, -1.3, -1.2, -1.1, -0.9, -0.8, -0.7, -0.6, -0.4, -0.3, -0.2, -0.1, 0.1, 0.2, 0.3, 0.4, 0.6, 0.7, 0.8, 0.9, 1.1, 1.2, 1.3, 1.4, 1.6], "offset": -3, "tickSize": 3, "domain": false, "labels": false, "title": null}}}
        },
        {
          "data": {"values": [{}]},
          "mark": {"type": "rule", "opacity": 0},
          "encoding": {"x": {"datum": 0, "type": "quantitative", "scale": {"domain": [-2.0, 1.68], "nice": false, "zero": false},
            "axis": {"orient": "top", "values": [-2, -1.5, -1, -0.5, 0, 0.5, 1, 1.5], "offset": -222, "tickSize": 6, "domain": false, "labels": false, "title": null}}}
        },
        {
          "data": {"values": [{}]},
          "mark": {"type": "rule", "opacity": 0},
          "encoding": {"x": {"datum": 0, "type": "quantitative", "scale": {"domain": [-2.0, 1.68], "nice": false, "zero": false},
            "axis": {"orient": "top", "values": [-1.9, -1.8, -1.7, -1.6, -1.4, -1.3, -1.2, -1.1, -0.9, -0.8, -0.7, -0.6, -0.4, -0.3, -0.2, -0.1, 0.1, 0.2, 0.3, 0.4, 0.6, 0.7, 0.8, 0.9, 1.1, 1.2, 1.3, 1.4, 1.6], "offset": -219, "tickSize": 3, "domain": false, "labels": false, "title": null}}}
        },
        {
          "data": {"values": [{}]},
          "mark": {"type": "rule", "opacity": 0},
          "encoding": {"y": {"datum": 0, "type": "quantitative", "scale": {"domain": [-0.5, 0.5], "range": [269, 216], "nice": false, "zero": false},
            "axis": {"orient": "left", "values": [-0.45, -0.35, -0.3, -0.25, -0.15, -0.1, -0.05, 0.05, 0.1, 0.15, 0.25, 0.3, 0.35, 0.45], "offset": -3, "tickSize": 3, "domain": false, "labels": false, "title": null}}}
        },
        {
          "data": {"values": [{}]},
          "mark": {"type": "rule", "opacity": 0},
          "encoding": {"y": {"datum": 0, "type": "quantitative", "scale": {"domain": [-0.5, 0.5], "range": [269, 216], "nice": false, "zero": false},
            "axis": {"orient": "right", "values": [-0.4, -0.2, 0, 0.2, 0.4], "offset": -6, "tickSize": 6, "domain": false, "labels": false, "title": null}}}
        },
        {
          "data": {"values": [{}]},
          "mark": {"type": "rule", "opacity": 0},
          "encoding": {"y": {"datum": 0, "type": "quantitative", "scale": {"domain": [-0.5, 0.5], "range": [269, 216], "nice": false, "zero": false},
            "axis": {"orient": "right", "values": [-0.45, -0.35, -0.3, -0.25, -0.15, -0.1, -0.05, 0.05, 0.1, 0.15, 0.25, 0.3, 0.35, 0.45], "offset": -3, "tickSize": 3, "domain": false, "labels": false, "title": null}}}
        }
      ]
    }
  ]
}
